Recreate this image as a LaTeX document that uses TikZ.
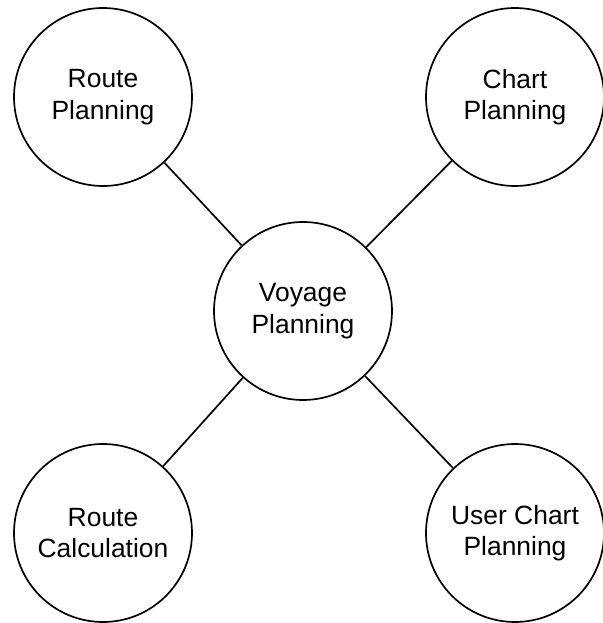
\documentclass[tikz,border=0pt]{standalone}
\usepackage{fontspec}
\setmainfont{Liberation Sans}
\usepackage{tikz}
\usetikzlibrary{positioning}

\tikzset{
  bubble/.style={circle, draw=black, line width=1.2pt, minimum size=4.45cm,
    inner sep=0pt, align=center, font=\fontsize{18.8}{22.5}\selectfont},
  spoke/.style={draw=black, line width=1.2pt}
}

\begin{document}
\begin{tikzpicture}
    \useasboundingbox (0,0) rectangle (15.075,15.575);

    \node[bubble] (voyage)    at (7.575, 7.8)   {Voyage\\Planning};
    \node[bubble] (route)     at (2.575, 13.15) {Route\\Planning};
    \node[bubble] (chart)     at (12.875,13.15) {Chart\\Planning};
    \node[bubble] (calc)      at (2.575, 2.25)  {Route\\Calculation};
    \node[bubble] (userchart) at (12.875,2.25)  {User Chart\\Planning};

    \draw[spoke] (voyage) -- (route);
    \draw[spoke] (voyage) -- (chart);
    \draw[spoke] (voyage) -- (calc);
    \draw[spoke] (voyage) -- (userchart);
\end{tikzpicture}
\end{document}
